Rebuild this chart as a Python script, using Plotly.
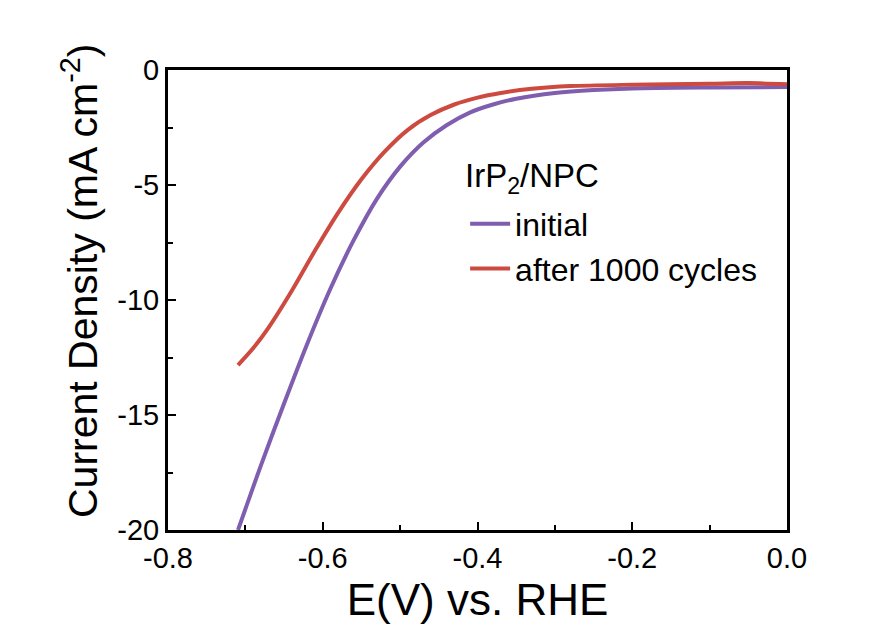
import plotly.graph_objects as go

# Data
initial_E = [-0.7095, -0.68, -0.65, -0.62, -0.59, -0.56, -0.53, -0.50, -0.47, -0.44,
             -0.41, -0.38, -0.35, -0.30, -0.25, -0.20, -0.10, 0.0]
initial_j = [-20.0, -17.2, -14.5, -11.9, -9.5, -7.4, -5.6, -4.2, -3.15, -2.4,
             -1.85, -1.5, -1.25, -1.0, -0.87, -0.8, -0.76, -0.74]

after_E = [-0.7095, -0.69, -0.67, -0.64, -0.61, -0.58, -0.55, -0.52, -0.49, -0.46,
           -0.43, -0.40, -0.37, -0.33, -0.28, -0.20, -0.10, -0.05, 0.0]
after_j = [-12.83, -12.1, -11.2, -9.6, -7.85, -6.2, -4.75, -3.55, -2.6, -1.95,
           -1.5, -1.2, -1.0, -0.82, -0.7, -0.64, -0.6, -0.57, -0.62]

x_tickvals = [-0.8, -0.6, -0.4, -0.2, 0.0]
x_ticktext = ["-0.8", "-0.6", "-0.4", "-0.2", "0.0"]
y_tickvals = [0, -5, -10, -15, -20]
y_ticktext = ["0", "-5", "-10", "-15", "-20"]

FONT = "Liberation Sans, Arial, sans-serif"

fig = go.Figure()
fig.add_trace(go.Scatter(x=initial_E, y=initial_j, mode="lines", name="initial",
                         line=dict(color="#7F5DAF", width=4, shape="spline", smoothing=0.8)))
fig.add_trace(go.Scatter(x=after_E, y=after_j, mode="lines", name="after 1000 cycles",
                         line=dict(color="#CC4A40", width=4, shape="spline", smoothing=0.8)))

axis_common = dict(showgrid=False, zeroline=False, showline=True, linecolor="black",
                   linewidth=3, mirror=True, ticks="inside", ticklen=8, tickwidth=2,
                   tickcolor="black", tickfont=dict(family=FONT, size=29, color="black"))

fig.update_xaxes(range=[-0.8, 0.0], tickvals=x_tickvals, ticktext=x_ticktext,
                 minor=dict(ticks="inside", ticklen=5, tickwidth=2, tickcolor="black", dtick=0.1),
                 title=dict(text="E(V) vs. RHE", font=dict(family=FONT, size=44, color="black"),
                            standoff=12),
                 **axis_common)
fig.update_yaxes(range=[-20, 0], tickvals=y_tickvals, ticktext=y_ticktext,
                 minor=dict(ticks="inside", ticklen=5, tickwidth=2, tickcolor="black", dtick=2.5),
                 **axis_common)

fig.add_annotation(text="Current Density (mA cm<sup>-2</sup>)", textangle=-90,
                   xref="paper", yref="paper", x=(80 - 168) / 619, y=(530 - 281) / 460,
                   xanchor="center", yanchor="middle", showarrow=False,
                   font=dict(family=FONT, size=41, color="black"))

fig.add_annotation(text="IrP<sub>2</sub>/NPC", xref="paper", yref="paper",
                   x=(463 - 168) / 619, y=(530 - 178) / 460,
                   xanchor="left", yanchor="middle", showarrow=False,
                   font=dict(family=FONT, size=33, color="black"))

fig.update_layout(
    width=896, height=630,
    margin=dict(l=168, r=109, t=70, b=100),
    paper_bgcolor="white", plot_bgcolor="white",
    font=dict(family=FONT, color="black"),
    showlegend=True,
    legend=dict(x=0.48, y=0.725, xanchor="left", yanchor="top",
                bgcolor="rgba(0,0,0,0)", borderwidth=0,
                font=dict(family=FONT, size=32, color="black"),
                tracegroupgap=0, itemwidth=40),
)

fig.write_html("out.html")
